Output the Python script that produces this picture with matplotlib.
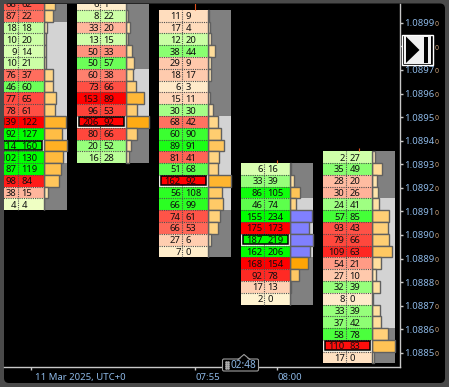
import matplotlib
matplotlib.use('Agg')
import matplotlib.pyplot as plt
from matplotlib.patches import Rectangle, FancyBboxPatch, Polygon
from matplotlib.transforms import ScaledTranslation

plt.rcParams['font.family'] = ['Noto Sans', 'DejaVu Sans']

# minutes after 07:45, one footprint candle per 5 minutes
candle_times = [0, 5, 10, 15, 20]
# price at the centre of the first row of each candle
top_prices = [1.08998, 1.08998, 1.08993, 1.08928, 1.08933]
# price reached by the wick above the cells
wick_highs = [None, None, 1.09000, 1.08932, 1.08937]

bid0 = [68, 87, 18, 10, 9, 10, 76, 46, 77, 78, 139, 92, 114, 102, 87, 98, 38, 4]
ask0 = [62, 22, 18, 20, 14, 21, 37, 60, 65, 61, 122, 127, 160, 130, 119, 84, 15, 4]
bid1 = [6, 8, 33, 13, 50, 50, 60, 73, 153, 96, 206, 80, 20, 16]
ask1 = [1, 22, 20, 15, 33, 57, 38, 66, 89, 53, 92, 66, 52, 28]
bid2 = [11, 17, 12, 38, 29, 18, 6, 15, 30, 68, 60, 89, 81, 51, 162, 56, 66, 74, 66, 27, 7]
ask2 = [9, 4, 20, 44, 9, 17, 3, 11, 30, 42, 90, 91, 41, 68, 92, 108, 99, 61, 53, 6, 0]
bid3 = [6, 33, 86, 46, 155, 175, 187, 162, 168, 92, 17, 2]
ask3 = [16, 39, 105, 74, 234, 173, 219, 206, 154, 78, 13, 0]
bid4 = [2, 35, 28, 30, 24, 57, 93, 79, 109, 54, 27, 32, 8, 33, 37, 58, 110, 17]
ask4 = [27, 49, 20, 26, 41, 85, 43, 66, 63, 21, 10, 39, 0, 39, 42, 78, 83, 0]

# first and last row of the value area
va_first = [2, 6, 9, 3, 4]
va_last = [13, 10, 16, 7, 14]

price_ticks = [1.0899, 1.0898, 1.0897, 1.0896, 1.0895, 1.0894, 1.0893, 1.0892,
               1.0891, 1.0890, 1.0889, 1.0888, 1.0887, 1.0886, 1.0885]
time_ticks = [0, 10, 15]
time_labels = ['11 Mar 2025, UTC+0', '07:55', '08:00']

bids = [bid0, bid1, bid2, bid3, bid4]
asks = [ask0, ask1, ask2, ask3, ask4]

ROW = 0.00005
PX_X = 16.4     # pixels per minute
LEFT = -36.3 / PX_X
MID = -13.0 / PX_X
RIGHT = 12.3 / PX_X
END = 36.0 / PX_X
BAR_MAX = 23.0 / PX_X


def mix(a, b, t):
    return tuple((a[i] + (b[i] - a[i]) * t) / 255 for i in range(3))


def cell_color(b, a):
    t = min((b + a) / 205, 1)
    if a >= b:
        return mix((255, 255, 208), (0, 255, 0), t ** 0.85)
    return mix((255, 245, 210), (255, 0, 0), t)


def bar_color(total):
    if total >= 340:
        return '#8080FF'
    return mix((255, 240, 205), (255, 165, 5), min(total / 322, 1))


fig = plt.figure(figsize=(4.49, 3.87), dpi=100, facecolor='#4a4a4a')

# black panel behind everything, pixel coordinates
back = fig.add_axes([0, 0, 1, 1], zorder=0)
back.set_xlim(0, 449)
back.set_ylim(387, 0)
back.axis('off')
back.add_patch(FancyBboxPatch((4, 3.5), 441, 379.5, boxstyle='round,pad=0,rounding_size=5',
                              facecolor='black', linewidth=0))

ax = fig.add_axes([4 / 449, 1 - 367 / 387, 395.5 / 449, 363 / 387], zorder=1)
ax.patch.set_alpha(0)
ax.set_xlim(-1.665, 22.45)
ax.set_ylim(1.08844, 1.08998)

for c in range(5):
    t = candle_times[c]
    bid = bids[c]
    ask = asks[c]
    prices = [top_prices[c] - ROW * i for i in range(len(bid))]
    totals = [b + a for b, a in zip(bid, ask)]
    poc = totals.index(max(totals))

    # profile background, value area lighter
    for i, p in enumerate(prices):
        shade = '#D3D3D3' if va_first[c] <= i <= va_last[c] else '#808080'
        ax.barh(p, END - RIGHT, left=t + RIGHT, height=ROW, color=shade, linewidth=0, zorder=1)

    # volume profile bars
    for i, p in enumerate(prices):
        ax.barh(p, totals[i] / max(totals) * BAR_MAX, left=t + RIGHT, height=ROW,
                color=bar_color(totals[i]), edgecolor='#606060', linewidth=1, zorder=2)

    # bid / ask cells
    for i, p in enumerate(prices):
        col = cell_color(bid[i], ask[i])
        ax.barh(p, RIGHT - LEFT, left=t + LEFT, height=ROW,
                color='#F2F2E6' if i == poc else col, linewidth=0, zorder=3)
        if i == poc:
            ax.barh(p, RIGHT - LEFT - 0.2, left=t + LEFT + 0.1, height=ROW * 0.76, color=col,
                    edgecolor='black', linewidth=1.1, zorder=5)
        ax.text(t + MID - 0.1, p, str(bid[i]), ha='right', va='center_baseline', fontsize=6.8,
                color='#101010', zorder=6, clip_on=True)
        ax.text(t + MID + 0.18, p, str(ask[i]), ha='left', va='center_baseline', fontsize=6.8,
                color='#101010', zorder=6, clip_on=True)

    # dotted row lines and the divider
    edges = [p - ROW / 2 for p in prices[:-1]]
    ax.hlines(edges, t + LEFT, t + RIGHT, colors='#505050', linestyles=(0, (1, 1)), linewidth=0.8, zorder=4)
    ax.vlines(t + MID, prices[-1] - ROW / 2, prices[0] + ROW / 2, colors='#505050',
              linestyles=(0, (1, 1)), linewidth=0.8, zorder=4)
    ax.vlines(t + RIGHT, prices[-1] - ROW / 2, prices[0] + ROW / 2, colors='#606060', linewidth=1, zorder=4)

    if wick_highs[c] is not None:
        ax.vlines(t, prices[0] + ROW / 2, wick_highs[c], colors='#E0501E', linewidth=0.8, zorder=4)

for s in ['top', 'left']:
    ax.spines[s].set_visible(False)
for s in ['right', 'bottom']:
    ax.spines[s].set_color('#C8C8C8')
    ax.spines[s].set_linewidth(1)

ax.yaxis.tick_right()
ax.set_yticks(price_ticks)
ax.set_yticklabels(['%.4f' % p for p in price_ticks])
ax.tick_params(axis='y', length=2, width=1, color='#C8C8C8', pad=1.2, labelsize=6.9, labelcolor='#8DB8E6')
ax.set_xticks(time_ticks)
ax.set_xticklabels(time_labels, ha='left')
ax.tick_params(axis='x', length=2, width=1, color='#C8C8C8', pad=2.2, labelsize=6.9, labelcolor='#8DB8E6')
# date label starts a little right of its tick
date_label = ax.get_xticklabels()[0]
date_label.set_transform(date_label.get_transform() + ScaledTranslation(3.4 / 100, 0, fig.dpi_scale_trans))
for p in price_ticks:
    ax.annotate('0', xy=(1, p), xycoords=('axes fraction', 'data'), xytext=(25, -1.2),
                textcoords='offset points', fontsize=5, color='#C8A078', va='center')

# button and time box on top, pixel coordinates
over = fig.add_axes([0, 0, 1, 1], zorder=2)
over.set_xlim(0, 449)
over.set_ylim(387, 0)
over.axis('off')

# scroll button
over.add_patch(Rectangle((402, 34.5), 30.5, 30.5, facecolor='black', edgecolor='white', linewidth=1))
over.add_patch(Rectangle((403.5, 36), 27.5, 27.5, facecolor='#F0F0F0', linewidth=0))
over.add_patch(Polygon([(406, 36.5), (419.5, 50), (406, 63)], color='black', linewidth=0))
over.add_patch(Rectangle((424, 36.5), 4, 26, color='black', linewidth=0))

# time box
over.add_patch(FancyBboxPatch((223, 359.5), 35, 11, boxstyle='round,pad=0.5,rounding_size=1.5',
                              facecolor='black', edgecolor='#A0A0A0', linewidth=0.8))
over.plot([238, 244, 250], [359.5, 354.5, 359.5], color='#A0A0A0', linewidth=0.8)
over.add_patch(Polygon([(238.5, 360.5), (244, 355.5), (249.5, 360.5)], color='black', linewidth=0))
over.plot([225.5, 225.5, 225.5, 225.5, 227.5, 227.5, 227.5, 227.5],
          [362, 364, 366, 368, 362, 364, 366, 368], ls='none', marker='s', markersize=0.8, color='#B0B0B0')
over.text(243.5, 365.5, '02:48', ha='center', va='center', fontsize=7.2, color='#8DB8E6')

fig.savefig('out.png', dpi=100, facecolor=fig.get_facecolor())
